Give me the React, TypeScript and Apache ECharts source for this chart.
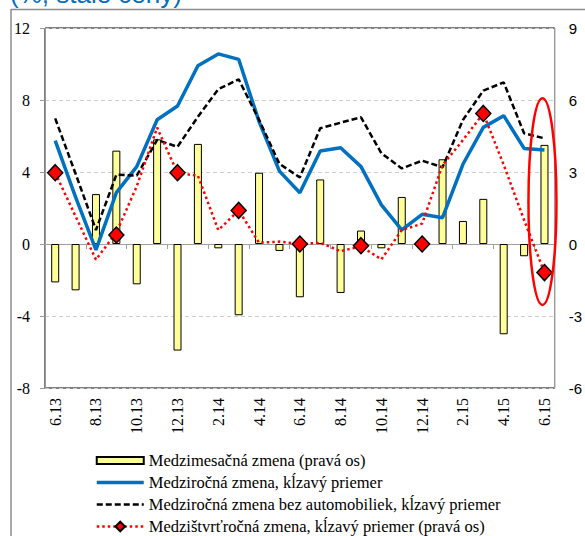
import React, { useEffect, useRef } from "react";
import * as echarts from "echarts";

const categories = [
  "6.13", "7.13", "8.13", "9.13", "10.13", "11.13", "12.13",
  "1.14", "2.14", "3.14", "4.14", "5.14", "6.14", "7.14", "8.14", "9.14", "10.14", "11.14", "12.14",
  "1.15", "2.15", "3.15", "4.15", "5.15", "6.15",
];

// Medzimesačná zmena (pravá os)
const monthlyChange = [
  -1.6, -1.93, 2.08, 3.89, -1.68, 4.36, -4.44, 4.17, -0.18, -2.97, 2.97, -0.29,
  -2.22, 2.69, -2.04, 0.56, -0.18, 1.96, 0.1, 3.53, 0.96, 1.88, -3.76, -0.51, 4.13,
];

// Medziročná zmena, kĺzavý priemer (ľavá os)
const yoyChange = [
  5.74, 2.6, -0.33, 2.85, 4.3, 6.9, 7.67, 9.9, 10.56, 10.26, 6.8, 4.05,
  2.85, 5.17, 5.35, 4.3, 2.17, 0.78, 1.65, 1.46, 4.43, 6.48, 7.13, 5.31, 5.22,
];

// Medziročná zmena bez automobiliek, kĺzavý priemer (ľavá os)
const yoyExAuto = [
  6.98, 3.9, 0.78, 3.85, 3.8, 5.78, 5.4, 7.07, 8.6, 9.15, 6.9, 4.45,
  3.7, 6.43, 6.74, 7.04, 5.04, 4.2, 4.63, 4.26, 6.89, 8.52, 8.98, 6.15, 5.87,
];

// Medzištvrťročná zmena, kĺzavý priemer (pravá os) - monthly line
const qoqLine = [
  2.97, 1.15, -0.65, 0.48, 2.4, 4.85, 2.95, 2.85, 0.58, 1.4, 0.05, 0.1,
  0.0, 0.05, -0.3, -0.1, -0.64, 0.58, 0.85, 3.29, 4.33, 5.44, 3.3, 1.0, -1.19,
];

// Quarterly markers (diamonds)
const qoqQuarter: (number | string)[] = [
  2.97, "-", "-", 0.375, "-", "-", 2.97, "-", "-", 1.4, "-", "-",
  0, "-", "-", -0.07, "-", "-", 0, "-", "-", 5.44, "-", "-", -1.19,
];

const leftAxisTicks = [-8, -4, 0, 4, 8, 12];
const rightAxisTicks = [-6, -3, 0, 3, 6, 9];
const highlightRange = [-2.54, 6.07]; // right-axis values spanned by the red ellipse
const highlightIndex = 24;

const seriesNames = [
  "Medzimesačná zmena (pravá os)",
  "Medziročná zmena, kĺzavý priemer",
  "Medziročná zmena bez automobiliek, kĺzavý priemer",
  "Medzištvrťročná zmena, kĺzavý priemer (pravá os)",
];

const SERIF = '"Liberation Serif", "Times New Roman", serif';
const SANS = '"Liberation Sans", Arial, sans-serif';

export default function App() {
  const ref = useRef<HTMLDivElement>(null);

  useEffect(() => {
    if (!ref.current) return;
    const chart = echarts.init(ref.current, undefined, { renderer: "svg" });

    const option: any = {
      animation: false,
      backgroundColor: "#fff",
      grid: {
        left: 45,
        right: 28,
        top: 28,
        bottom: 148,
        show: true,
        borderColor: "#000",
        borderWidth: 1,
        backgroundColor: "transparent",
      },
      legend: {
        orient: "vertical",
        left: 90,
        top: 447,
        width: 480,
        height: 120,
        padding: 5,
        itemWidth: 47,
        itemHeight: 12,
        itemGap: 5,
        textStyle: { fontFamily: SERIF, fontSize: 16.5, color: "#000", lineHeight: 16 },
        data: [
          { name: seriesNames[0], icon: "path://M0,0H47V7H0Z" },
          { name: seriesNames[1], itemStyle: { opacity: 0 }, lineStyle: { width: 3.5 } },
          { name: seriesNames[2], itemStyle: { opacity: 0 }, lineStyle: { width: 2.5 } },
          { name: seriesNames[3], lineStyle: { width: 2.5 } },
        ],
      },
      xAxis: [
        {
          type: "category",
          data: categories,
          position: "bottom",
          boundaryGap: true,
          axisLine: { show: false, onZero: false },
          axisTick: { show: false },
          axisLabel: {
            interval: 1,
            rotate: 90,
            margin: 10,
            fontFamily: SERIF,
            fontSize: 16,
            color: "#000",
          },
          splitLine: { show: false },
        },
        {
          type: "category",
          data: categories,
          position: "top",
          boundaryGap: true,
          axisLine: {
            show: true,
            onZero: true,
            onZeroAxisIndex: 0,
            lineStyle: { color: "#a0a0a0", width: 1 },
          },
          axisTick: {
            show: true,
            inside: true,
            interval: 1,
            length: 5,
            lineStyle: { color: "#a0a0a0" },
          },
          axisLabel: { show: false },
          splitLine: { show: false },
        },
      ],
      yAxis: [
        {
          type: "value",
          position: "left",
          min: leftAxisTicks[0],
          max: leftAxisTicks[leftAxisTicks.length - 1],
          interval: leftAxisTicks[1] - leftAxisTicks[0],
          axisLine: { show: true, onZero: false, lineStyle: { color: "#999" } },
          axisTick: { show: true, length: 5, lineStyle: { color: "#999" } },
          axisLabel: { margin: 15, fontFamily: SERIF, fontSize: 16, color: "#000" },
          splitLine: { show: true, lineStyle: { color: "#cfcfcf", type: [4, 3] } },
        },
        {
          type: "value",
          position: "right",
          min: rightAxisTicks[0],
          max: rightAxisTicks[rightAxisTicks.length - 1],
          interval: rightAxisTicks[1] - rightAxisTicks[0],
          axisLine: { show: true, onZero: false, lineStyle: { color: "#999" } },
          axisTick: { show: false },
          axisLabel: { margin: 14, fontFamily: SANS, fontSize: 15, color: "#000" },
          splitLine: { show: false },
        },
      ],
      series: [
        {
          name: seriesNames[0],
          type: "bar",
          xAxisIndex: 0,
          yAxisIndex: 1,
          data: monthlyChange,
          barWidth: 8,
          itemStyle: { color: "#FFFF99", borderColor: "#000", borderWidth: 1 },
          z: 1,
        },
        {
          name: seriesNames[1],
          type: "line",
          xAxisIndex: 0,
          yAxisIndex: 0,
          data: yoyChange,
          symbol: "none",
          lineStyle: { color: "#0070C0", width: 3.5 },
          itemStyle: { color: "#0070C0" },
          z: 3,
        },
        {
          name: seriesNames[2],
          type: "line",
          xAxisIndex: 0,
          yAxisIndex: 0,
          data: yoyExAuto,
          symbol: "none",
          lineStyle: { color: "#000", width: 2.5, type: [6, 3] },
          itemStyle: { color: "#000" },
          z: 3,
        },
        {
          name: seriesNames[3],
          type: "line",
          xAxisIndex: 0,
          yAxisIndex: 1,
          data: qoqLine,
          symbol: "diamond",
          symbolSize: 15,
          showSymbol: false,
          lineStyle: { color: "#FF0000", width: 2.5, type: [2.5, 3] },
          itemStyle: { color: "#FF0000", borderColor: "#000", borderWidth: 1 },
          z: 4,
        },
        {
          name: "qoqQuarter",
          type: "scatter",
          xAxisIndex: 0,
          yAxisIndex: 1,
          data: qoqQuarter,
          symbol: "diamond",
          symbolSize: [15, 16],
          itemStyle: { color: "#FF0000", borderColor: "#000", borderWidth: 1.5, opacity: 1 },
          z: 5,
        },
      ],
    };

    chart.setOption(option);

    const cx = chart.convertToPixel({ xAxisIndex: 0 }, categories[highlightIndex]) as number;
    const yTop = chart.convertToPixel({ yAxisIndex: 1 }, highlightRange[1]) as number;
    const yBot = chart.convertToPixel({ yAxisIndex: 1 }, highlightRange[0]) as number;

    chart.setOption({
      graphic: [
        {
          type: "text",
          x: 10,
          y: -6,
          style: {
            text: "(%, stále ceny)",
            font: `26px ${SANS}`,
            fill: "#0070C0",
            verticalAlign: "middle",
            align: "left",
          },
        },
        {
          type: "line",
          shape: { x1: 11, y1: 9.5, x2: 585, y2: 9.5 },
          style: { stroke: "#8c8c8c", lineWidth: 1.5 },
        },
        {
          type: "line",
          shape: { x1: 11, y1: 9, x2: 11, y2: 536 },
          style: { stroke: "#8c8c8c", lineWidth: 1.5 },
        },
        {
          type: "ellipse",
          shape: { cx: cx - 2, cy: (yTop + yBot) / 2, rx: 14, ry: (yBot - yTop) / 2 },
          style: { fill: "none", stroke: "#FF0000", lineWidth: 2.5 },
          z: 10,
        },
      ],
    });

    return () => chart.dispose();
  }, []);

  return (
    <div
      ref={ref}
      style={{ position: "fixed", left: 0, top: 0, width: 585, height: 536, background: "#fff" }}
    />
  );
}
